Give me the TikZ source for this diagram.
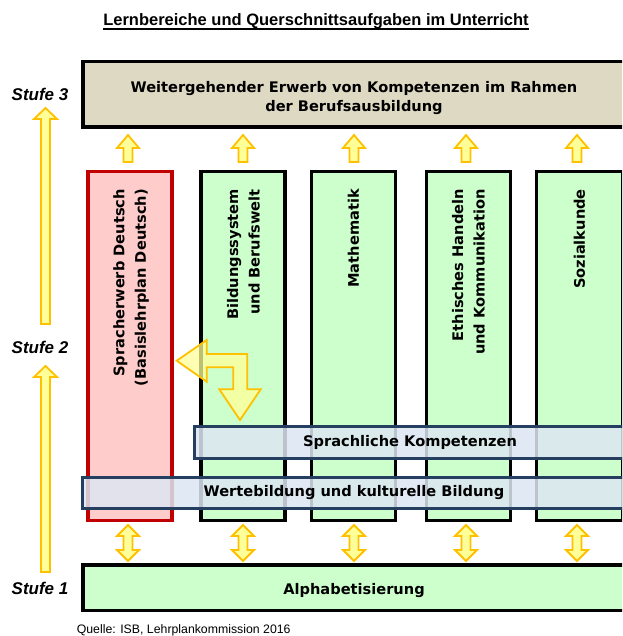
\documentclass[tikz,border=0pt]{standalone}
\usepackage{fontspec}
\setmainfont{DejaVu Sans}
\newfontfamily\arialfont{Liberation Sans}
\definecolor{beige}{HTML}{DDD9C3}
\definecolor{lgreen}{HTML}{CCFFCC}
\definecolor{lred}{HTML}{FFCCCC}
\definecolor{dred}{HTML}{C00000}
\definecolor{lblue}{HTML}{DCE6F2}
\definecolor{dblue}{HTML}{243F60}
\definecolor{ayel}{HTML}{FFFF99}
\definecolor{aorg}{HTML}{FFC000}
\begin{document}
\begin{tikzpicture}[x=1pt,y=-1pt,
  lab/.style={font=\fontsize{14.6}{21.5}\selectfont\bfseries, inner sep=0pt},
  bigbox/.style={draw=black, line width=3.5pt, fill=lgreen, inner sep=0pt},
  colbox/.style={draw=black, line width=3.5pt, fill=lgreen, inner sep=0pt, minimum width=84pt, minimum height=348.5pt},
  bluebox/.style={draw=dblue, line width=3pt, fill=lblue, fill opacity=0.85, inner sep=0pt},
  yarrow/.style={draw=aorg, line width=1.8pt, fill=ayel, line join=miter},
  stufe/.style={font=\arialfont\fontsize{17}{20}\selectfont\bfseries\itshape, inner sep=0pt},
  uparr/.pic={\draw[yarrow] (-4.5,0) -- (-4.5,-14) -- (-11,-14) -- (0,-27) -- (11,-14) -- (4.5,-14) -- (4.5,0) -- cycle;},
  dblarr/.pic={\draw[yarrow] (0,-18) -- (11,-7) -- (4.5,-7) -- (4.5,7) -- (11,7) -- (0,18) -- (-11,7) -- (-4.5,7) -- (-4.5,-7) -- (-11,-7) -- cycle;}
]
\useasboundingbox (0,0) rectangle (622,636);
\clip (0,0) rectangle (622,636);

% title
\node[font=\arialfont\fontsize{16.5}{19}\selectfont\bfseries, inner sep=0pt, anchor=base] (title) at (316,26) {Lernbereiche und Querschnittsaufgaben im Unterricht};
\draw[line width=1.2pt] ([yshift=-3pt]title.base west) -- ([yshift=-3pt]title.base east);

% top box
\node[bigbox, fill=beige, minimum width=542.5pt, minimum height=65.5pt] (top) at (354,94.5) {};
\node[lab, align=center, font=\fontsize{14.6}{19}\selectfont\bfseries] (toptext) at (354,98) {Weitergehender Erwerb von Kompetenzen im Rahmen\\der Berufsausbildung};

% small up arrows
\foreach \x in {128,243,354,466,577} \pic at (\x,162) {uparr};

% columns
\node[colbox, draw=dred, fill=lred, line width=3.2pt] (col1) at (130,346) {};
\node[colbox] (col2) at (243,346) {};
\node[colbox] (col3) at (353.5,346) {};
\node[colbox] (col4) at (468.5,346) {};
\node[colbox, minimum width=86pt] (col5) at (579.5,346) {};

\node[lab, rotate=90, anchor=east, align=right] (lab1) at (131,189) {Spracherwerb Deutsch\\(Basislehrplan Deutsch)};
\node[lab, rotate=90, anchor=east, align=right] (lab2) at (243.5,189) {Bildungssystem\\und Berufswelt};
\node[lab, rotate=90, anchor=east, align=right] (lab3) at (353.5,189) {Mathematik};
\node[lab, rotate=90, anchor=east, align=right] (lab4) at (468.5,189) {Ethisches Handeln\\und Kommunikation};
\node[lab, rotate=90, anchor=east, align=right] (lab5) at (579.5,189) {Sozialkunde};

% bent arrow
\draw[yarrow, fill opacity=0.75] (176.7,360.7) -- (206.7,340) -- (206.7,354) -- (247.3,354) -- (247.3,389.3) -- (260.7,389.3) -- (240,420) -- (219.3,389.3) -- (233.3,389.3) -- (233.3,367.3) -- (206.7,367.3) -- (206.7,381.7) -- cycle;

% transverse boxes
\node[bluebox, minimum width=432pt, minimum height=32pt] (sprach) at (410,442.5) {};
\node[lab] at (sprach.center) {Sprachliche Kompetenzen};
\node[bluebox, minimum width=543pt, minimum height=31pt] (werte) at (354,493) {};
\node[lab] at (werte.center) {Wertebildung und kulturelle Bildung};

% double arrows
\foreach \x in {128,243,354,466,577} \pic at (\x,543) {dblarr};

% bottom box
\node[bigbox, minimum width=542.5pt, minimum height=45.5pt] (alpha) at (354,587.5) {};
\node[lab] (alphatext) at (354,591) {Alphabetisierung};

% stufen
\node[stufe] (stufe3) at (40,94) {Stufe 3};
\node[stufe] (stufe2) at (40,347) {Stufe 2};
\node[stufe] (stufe1) at (40,588) {Stufe 1};

\draw[yarrow] (41,324) -- (41,119) -- (34,119) -- (45.5,108) -- (57,119) -- (50,119) -- (50,324) -- cycle;
\draw[yarrow] (41,572) -- (41,377) -- (34,377) -- (45.5,366) -- (57,377) -- (50,377) -- (50,572) -- cycle;

% source
\node[font=\arialfont\fontsize{12.3}{14}\selectfont, inner sep=0pt, anchor=west] (quelle) at (76.6,630) {Quelle: ISB, Lehrplankommission 2016};
\end{tikzpicture}
\end{document}
